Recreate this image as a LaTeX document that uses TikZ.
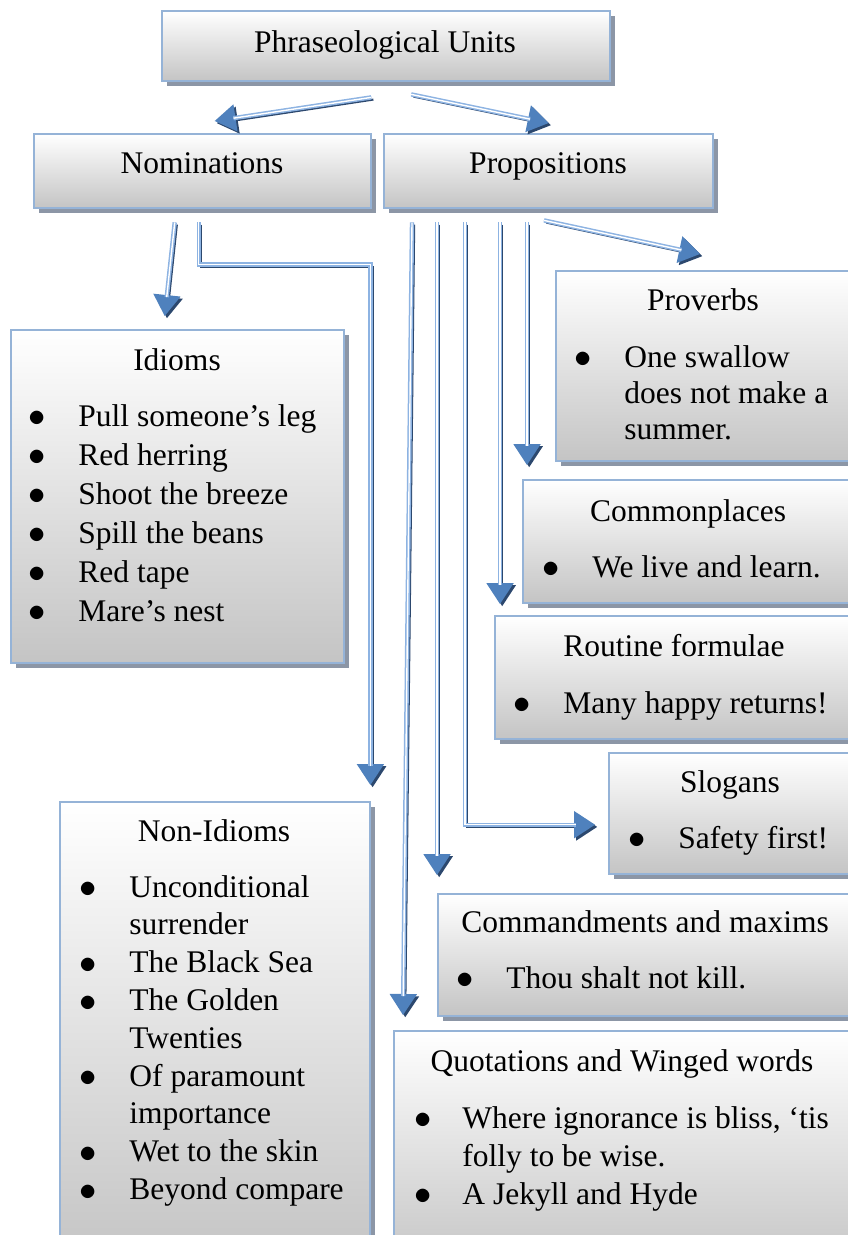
\documentclass[tikz,border=0pt]{standalone}
\usepackage{fontspec}
\usepackage{graphicx}
\setmainfont{Liberation Serif}
\usetikzlibrary{calc,shadows,arrows.meta}

\definecolor{boxedge}{RGB}{149,179,215}
\definecolor{boxbottom}{RGB}{196,196,196}
\definecolor{boxshadow}{RGB}{140,150,166}
\definecolor{linelight}{RGB}{141,179,226}
\definecolor{tipblue}{RGB}{79,129,189}
\definecolor{linedark}{RGB}{44,72,110}

% bullet item and continuation line for the lists
\newcommand\itm{\makebox[20.5pt][l]{\makebox[0pt][c]{\raisebox{-0.03em}{\scalebox{1.2}{$\bullet$}}}}}
\newcommand\itmcont{\hspace*{20.5pt}}

\tikzset{
  pubox/.style={rectangle, draw=boxedge, line width=1.2pt, top color=white,
    bottom color=boxbottom, inner sep=0pt, anchor=north west,
    general shadow={fill=boxshadow, shadow xshift=2.2pt, shadow yshift=-2.2pt}},
  hdr/.style={anchor=base, inner sep=0pt, font=\fontsize{15.75}{19}\selectfont},
  lst/.style={anchor=base west, inner sep=0pt, align=flush left, text width=215pt,
    font=\fontsize{15.75}{#1}\selectfont},
  connshade/.style={draw=linedark, line width=1pt,
    transform canvas={xshift=1.1pt, yshift=-1.1pt},
    -{Triangle[length=10.5pt, width=13.5pt]}},
  conntip/.style={draw=tipblue, line width=1pt,
    -{Triangle[length=10.5pt, width=13.5pt]}},
  connline/.style={draw=linelight, line width=0.75pt, double=white,
    double distance=0.7pt, shorten >=9.5pt},
}

% a connector: offset dark edge, blue head, light double shaft
\newcommand\puconn[1]{%
  \draw[connshade] #1;
  \draw[conntip] #1;
  \draw[connline] #1;
}

\begin{document}
\begin{tikzpicture}[x=0.5pt, y=-0.5pt]
\useasboundingbox (0,0) rectangle (847,1235);

% boxes
\node[pubox, minimum width=224pt, minimum height=35pt] (pu) at (161,10) {};
\node[pubox, minimum width=168.5pt, minimum height=37pt] (nom) at (33,133) {};
\node[pubox, minimum width=164.5pt, minimum height=37pt] (prop) at (383,133) {};
\node[pubox, minimum width=166.5pt, minimum height=166.5pt] (idioms) at (10,329) {};
\node[pubox, minimum width=160pt, minimum height=95pt] (proverbs) at (555,270) {};
\node[pubox, minimum width=175pt, minimum height=61.5pt] (commonpl) at (522,479) {};
\node[pubox, minimum width=190pt, minimum height=61.5pt] (routine) at (494,615) {};
\node[pubox, minimum width=132pt, minimum height=60.5pt] (slogans) at (608,752) {};
\node[pubox, minimum width=220pt, minimum height=61pt] (command) at (437,893) {};
\node[pubox, minimum width=240pt, minimum height=120pt] (quot) at (393,1030) {};
\node[pubox, minimum width=155pt, minimum height=230pt] (nonid) at (59,801) {};

% headings
\node[hdr] (pu-t) at (385,53) {Phraseological Units};
\node[hdr] (nom-t) at (202,174) {Nominations};
\node[hdr] (prop-t) at (548,174) {Propositions};
\node[hdr] (idioms-t) at (177,370) {Idioms};
\node[hdr] (proverbs-t) at (703,311) {Proverbs};
\node[hdr] (commonpl-t) at (688,521) {Commonplaces};
\node[hdr] (routine-t) at (674,656) {Routine formulae};
\node[hdr] (slogans-t) at (730,792) {Slogans};
\node[hdr] (command-t) at (645,932) {Commandments and maxims};
\node[hdr] (quot-t) at (622,1071) {Quotations and Winged words};
\node[hdr] (nonid-t) at (214,841) {Non-Idioms};

% lists
\node[lst=19.5pt] (idioms-l) at (37,426) {\itm Pull someone’s leg\\ \itm Red herring\\
  \itm Shoot the breeze\\ \itm Spill the beans\\ \itm Red tape\\ \itm Mare’s nest};
\node[lst=18pt] (proverbs-l) at (583,367) {\itm One swallow\\ \itmcont does not make a\\
  \itmcont summer.};
\node[lst=19pt] (commonpl-l) at (551,577) {\itm We live and learn.};
\node[lst=19pt] (routine-l) at (522,713) {\itm Many happy returns!};
\node[lst=19pt] (slogans-l) at (637,848) {\itm Safety first!};
\node[lst=19pt] (command-l) at (465,988) {\itm Thou shalt not kill.};
\node[lst=19pt] (quot-l) at (423,1128) {\makebox[19.5pt][l]{\makebox[0pt][c]{\raisebox{-0.03em}{\scalebox{1.2}{$\bullet$}}}}Where ignorance is bliss, ‘tis\\
  \hspace*{19.5pt}folly to be wise.\\ \makebox[19.5pt][l]{\makebox[0pt][c]{\raisebox{-0.03em}{\scalebox{1.2}{$\bullet$}}}}A Jekyll and Hyde};
\node[lst=18.9pt] (nonid-l) at (88,897) {\itm Unconditional\\ \itmcont surrender\\
  \itm The Black Sea\\ \itm The Golden\\ \itmcont Twenties\\ \itm Of paramount\\
  \itmcont importance\\ \itm Wet to the skin\\ \itm Beyond compare};

% connector ends
\coordinate (n1s) at ($(pu.south)+(-15,15)$);
\coordinate (n1e) at ($(nom.north)+(12,-12)$);
\coordinate (p1s) at ($(pu.south)+(25,12)$);
\coordinate (p1e) at ($(prop.north)+(0,-10)$);
\coordinate (n2s) at ($(nom.south)+(-28,13)$);
\coordinate (n2e) at ($(idioms.north)+(-13,-13)$);
\coordinate (n3s) at ($(nom.south)+(-4,13)$);
\coordinate (n3e) at ($(nonid.north east)+(-1,-16)$);
\coordinate (p2s) at ($(prop.south west)+(29,13)$);
\coordinate (p2e) at ($(quot.north west)+(10,-15)$);
\coordinate (p3s) at ($(prop.south west)+(54,13)$);
\coordinate (p3e) at ($(command.north west)+(1,-18)$);
\coordinate (p4s) at ($(prop.south west)+(82,13)$);
\coordinate (p4e) at ($(slogans.west)+(-13,11)$);
\coordinate (p5s) at ($(prop.south west)+(117,13)$);
\coordinate (p5e) at ($(routine.north west)+(6,-11)$);
\coordinate (p6s) at ($(prop.south west)+(144,13)$);
\coordinate (p6e) at ($(commonpl.north west)+(5,-14)$);
\coordinate (p7s) at ($(prop.south west)+(161,11)$);
\coordinate (p7e) at ($(proverbs.north west)+(145,-16)$);

% connectors
\puconn{(n1s) -- (n1e)}
\puconn{(p1s) -- (p1e)}
\puconn{(n2s) -- (n2e)}
\puconn{(n3s) -- ++(0,42) -| (n3e)}
\puconn{(p2s) -- (p2e)}
\puconn{(p3s) -- (p3s |- p3e)}
\puconn{(p4s) |- (p4e)}
\puconn{(p5s) -- (p5s |- p5e)}
\puconn{(p6s) -- (p6s |- p6e)}
\puconn{(p7s) -- (p7e)}
\end{tikzpicture}
\end{document}
